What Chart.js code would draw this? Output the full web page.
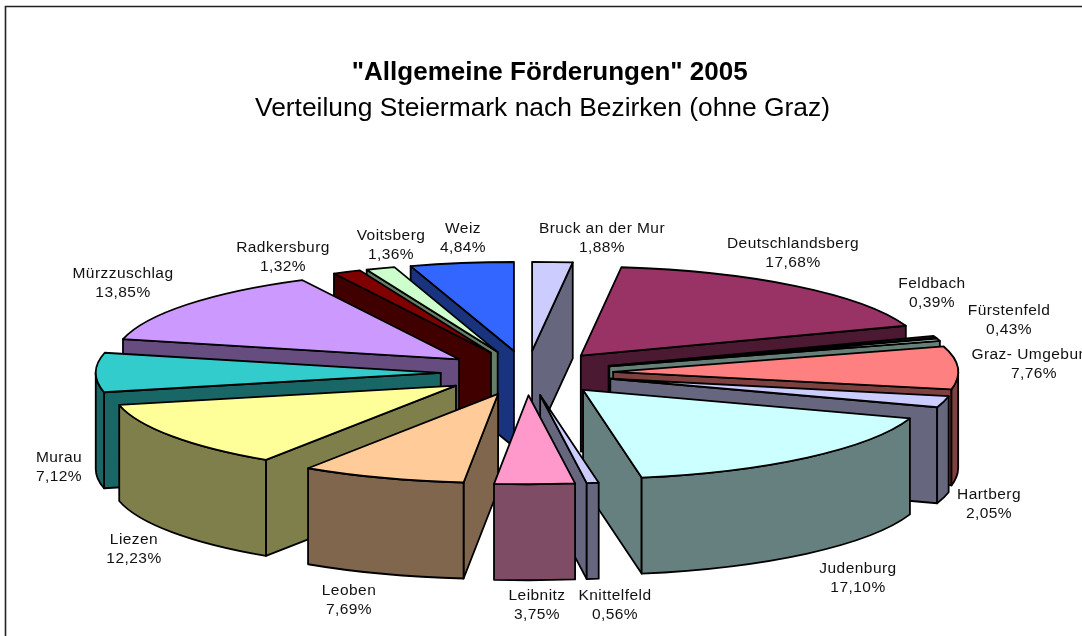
<!DOCTYPE html>
<html>
<head>
<meta charset="utf-8">
<style>html,body{margin:0;padding:0;background:#fff}canvas{display:block}</style>
<script src="https://cdn.jsdelivr.net/npm/chart.js@4"></script>
</head>
<body>
<canvas id="c" width="1082" height="636"></canvas>
<script>
const categories = ["Bruck an der Mur","Deutschlandsberg","Feldbach","Fürstenfeld","Graz- Umgebung","Hartberg","Judenburg","Knittelfeld","Leibnitz","Leoben","Liezen","Murau","Mürzzuschlag","Radkersburg","Voitsberg","Weiz"];
const shares = [1.88,17.68,0.39,0.43,7.76,2.05,17.10,0.56,3.75,7.69,12.23,7.12,13.85,1.32,1.36,4.84];
const sliceColors = ["#CCCCFF","#993366","#222222","#CCFFEE","#FF8080","#CCCCFF","#CCFFFF","#CCCCFF","#FF99CC","#FFCC99","#FFFF99","#33CCCC","#CC99FF","#800000","#CCFFCC","#3366FF"];
const titleText = '"Allgemeine Förderungen" 2005';
const subtitleText = 'Verteilung Steiermark nach Bezirken (ohne Graz)';

// Layout of the tilted pie on the page
const view = {cx:527, cy:373, rx:345, ry:89, depth:96, explode:0.25, line:1.8};
const labelCentres = [[602,238],[793,253],[932,293],[1009,320],[1034,364],[989,504],[858,578],[615,605],[537,605],[349,600],[134,549],[59,467],[123,283],[283,257],[391,245],[463,238]];

function shade(hex){
  const n=parseInt(hex.slice(1),16);
  return `rgb(${(n>>16&255)>>1},${(n>>8&255)>>1},${(n&255)>>1})`;
}
function face(ctx,build,fill){
  ctx.beginPath(); build(); ctx.closePath();
  ctx.fillStyle=fill; ctx.fill();
  ctx.lineWidth=view.line; ctx.strokeStyle='#000'; ctx.lineJoin='round'; ctx.stroke();
}
const pie3d = {
  id:'pie3d',
  beforeDraw(chart){
    const {ctx,width,height}=chart;
    ctx.save();
    ctx.fillStyle='#fff'; ctx.fillRect(0,0,width,height);
    ctx.strokeStyle='#222'; ctx.lineWidth=1.6;
    ctx.beginPath(); ctx.moveTo(5.5,height); ctx.lineTo(5.5,6.5); ctx.lineTo(width,6.5); ctx.stroke();
    ctx.restore();
  },
  beforeDatasetsDraw(chart){
    const ctx=chart.ctx, v=view;
    const arcs=chart.getDatasetMeta(0).data.map((arc,i)=>({arc,i,mid:(arc.startAngle+arc.endAngle)/2}));
    arcs.sort((p,q)=>Math.sin(p.mid)-Math.sin(q.mid));
    for(const {arc,i,mid} of arcs){
      const a0=arc.startAngle,a1=arc.endAngle;
      const ax=v.cx+Math.cos(mid)*v.rx*v.explode, ay=v.cy+Math.sin(mid)*v.ry*v.explode;
      const pt=(t)=>[ax+Math.cos(t)*v.rx, ay+Math.sin(t)*v.ry];
      const wall=shade(sliceColors[i]);
      const radial=(t)=>face(ctx,()=>{
        const p=pt(t);
        ctx.moveTo(ax,ay);ctx.lineTo(p[0],p[1]);ctx.lineTo(p[0],p[1]+v.depth);ctx.lineTo(ax,ay+v.depth);
      },wall);
      // radial faces that look towards the viewer
      if(Math.cos(a0)<0) radial(a0);
      if(Math.cos(a1)>0) radial(a1);
      // outer rim, only where it is on the near side
      const lo=Math.max(a0,0), hi=Math.min(a1,Math.PI);
      if(hi>lo){
        face(ctx,()=>{
          ctx.ellipse(ax,ay,v.rx,v.ry,0,lo,hi);
          ctx.ellipse(ax,ay+v.depth,v.rx,v.ry,0,hi,lo,true);
        },wall);
      }
      // top surface: the library's own arc, flattened
      ctx.save();
      const R=arc.outerRadius;
      ctx.translate(ax,ay);
      ctx.scale(v.rx/R,v.ry/R);
      ctx.translate(-arc.x,-arc.y);
      arc.draw(ctx);
      ctx.restore();
      ctx.beginPath();
      ctx.moveTo(ax,ay);
      ctx.ellipse(ax,ay,v.rx,v.ry,0,a0,a1);
      ctx.closePath();
      ctx.lineWidth=v.line; ctx.strokeStyle='#000'; ctx.lineJoin='round'; ctx.stroke();
    }
    // data labels
    ctx.save();
    ctx.fillStyle='#111';
    ctx.font='15.5px "Liberation Sans"';
    ctx.letterSpacing='0.45px';
    ctx.textAlign='center'; ctx.textBaseline='middle';
    categories.forEach((name,i)=>{
      const [x,y]=labelCentres[i];
      ctx.fillText(name,x,y-9.5);
      ctx.fillText(shares[i].toFixed(2).replace('.',',')+'%',x,y+10);
    });
    ctx.restore();
    return false;
  }
};
new Chart(document.getElementById('c'),{
  type:'pie',
  data:{labels:categories,datasets:[{data:shares,backgroundColor:sliceColors,borderWidth:0}]},
  plugins:[pie3d],
  options:{
    responsive:false,animation:false,events:[],
    layout:{padding:{left:3,top:48}},
    plugins:{
      legend:{display:false},tooltip:{enabled:false},
      title:{display:true,text:'  '+titleText,color:'#000',font:{family:'"Liberation Sans"',size:26,weight:'bold',lineHeight:1.2},padding:{top:9.4,bottom:4.6}},
      subtitle:{display:true,text:subtitleText,color:'#000',font:{family:'"Liberation Sans"',size:26.4,weight:'normal',lineHeight:1.2},padding:{top:0,bottom:0}}
    }
  }
});
</script>
</body>
</html>
